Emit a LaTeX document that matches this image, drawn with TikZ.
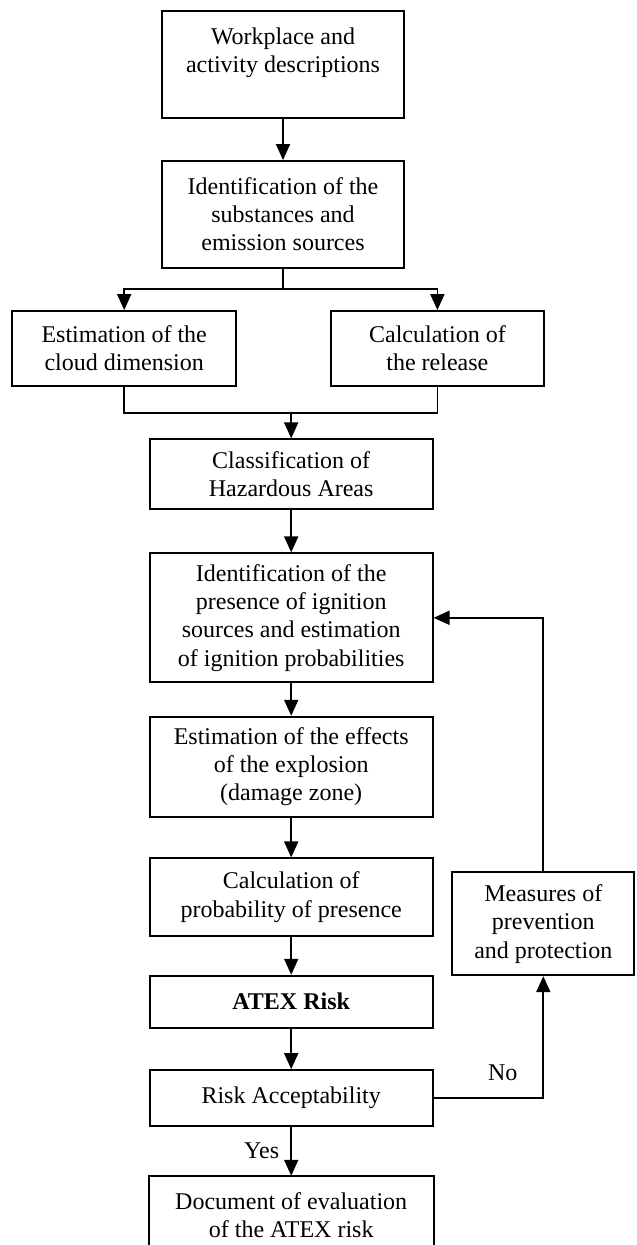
\documentclass[tikz,border=0pt]{standalone}
\usepackage{fontspec}
\setmainfont{Liberation Serif}
\usetikzlibrary{arrows.meta}
\begin{document}
\begin{tikzpicture}[x=1pt,y=-1pt,
  box/.style={draw=black, line width=1.8pt, align=center, inner sep=0pt,
    font=\fontsize{24}{28.3}\selectfont},
  lbl/.style={font=\fontsize{24}{28.3}\selectfont, inner sep=0pt},
  conn/.style={line width=1.8pt, line join=miter},
  arr/.style={line width=1.8pt, -{Triangle[length=16pt,width=14pt]}}]
\clip (0,0) rectangle (637,1245);
\node[box, minimum width=242.6pt, minimum height=107pt] (box1) at (283,64.2) {Workplace and\\activity descriptions\\~};
\node[box, minimum width=242.6pt, minimum height=106.7pt] (box2) at (283,214.3) {Identification of the\\substances and\\emission sources};
\node[box, minimum width=223.7pt, minimum height=75pt] (left) at (124.2,348.5) {Estimation of the\\cloud dimension};
\node[box, minimum width=212.7pt, minimum height=75pt] (right) at (437.4,348.5) {Calculation of\\the release};
\node[box, minimum width=283pt, minimum height=70pt] (class) at (291.2,474.3) {Classification of\\Hazardous Areas};
\node[box, minimum width=283pt, minimum height=129pt] (ign) at (291.2,617.8) {Identification of the\\presence of ignition\\sources and estimation\\of ignition probabilities};
\node[box, minimum width=283pt, minimum height=100pt] (eff) at (291.2,766.7) {Estimation of the effects\\of the explosion\\(damage zone)};
\node[box, minimum width=283pt, minimum height=77.7pt] (prob) at (291.2,897.2) {Calculation of\\probability of presence};
\node[box, minimum width=283pt, minimum height=52pt] (atex) at (291.2,1001.7) {\textbf{ATEX Risk}};
\node[box, minimum width=283pt, minimum height=55.7pt] (risk) at (291.2,1097.9) {Risk Acceptability};
\node[box, draw=none, minimum width=283pt, minimum height=76.6pt] (doc) at (291.2,1215) {Document of evaluation\\of the ATEX risk};
\draw[conn] ([yshift=-20pt]doc.south west) -- (doc.north west) -- (doc.north east) -- ([yshift=-20pt]doc.south east);
\node[box, minimum width=182pt, minimum height=103pt] (meas) at (543.3,923.8) {Measures of\\prevention\\and protection};
\coordinate (split) at (283,289.3);
\coordinate (merge) at (291.2,412.7);
\draw[arr] (box1) -- (box2);
\draw[conn] (box2.south) -- (split);
\draw[arr] (split) -| (left.north);
\draw[arr] (split) -| (right.north);
\draw[conn] (left.south) |- (merge) -| (right.south);
\draw[arr] (merge) -- (class.north);
\draw[arr] (class) -- (ign);
\draw[arr] (ign) -- (eff);
\draw[arr] (eff) -- (prob);
\draw[arr] (prob) -- (atex);
\draw[arr] (atex) -- (risk);
\draw[arr] (risk) -- (doc.north);
\draw[arr] (meas.north) |- (ign.east);
\draw[arr] (risk.east) -| (meas.south);
\node[lbl] (yes) at (261.7,1150.7) {Yes};
\node[lbl] (no) at (502.7,1073) {No};
\end{tikzpicture}
\end{document}
